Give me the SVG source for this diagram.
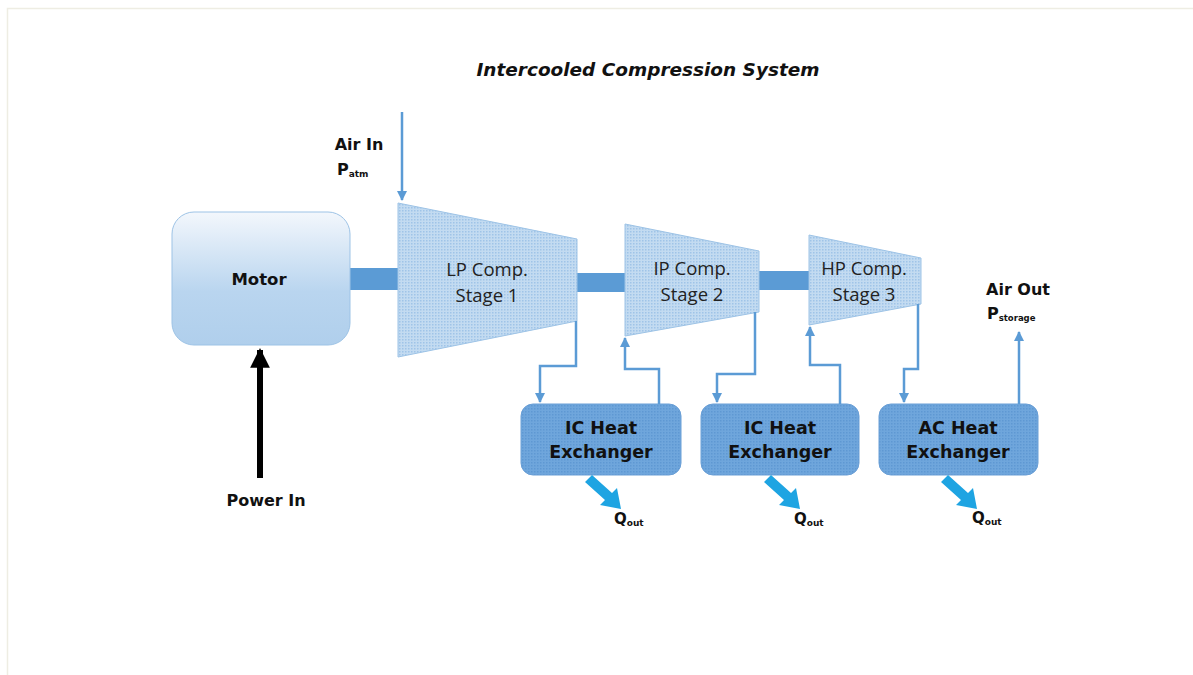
<svg xmlns="http://www.w3.org/2000/svg" width="1193" height="675" viewBox="0 0 1193 675">
<defs>
<style>
.lbl{font-family:"DejaVu Sans","Liberation Sans",sans-serif;font-weight:bold;fill:#111;}
.comp{font-family:"Open Sans","Liberation Sans",sans-serif;font-size:18.5px;fill:#222;text-anchor:middle;}
.title{font-family:"DejaVu Sans","Liberation Sans",sans-serif;font-weight:bold;font-style:italic;font-size:17px;fill:#111;text-anchor:middle;}
.flow{fill:none;stroke:#5b9bd5;stroke-width:2.5;}
.shaft{fill:#5b9bd5;}
.compshape{fill:url(#dots);stroke:#9dc3e6;stroke-width:1;}
.hx{fill:url(#hxdots);stroke:#6a9fd6;stroke-width:1;}
.hxt{font-family:"DejaVu Sans","Liberation Sans",sans-serif;font-weight:bold;font-size:17.5px;fill:#111;text-anchor:middle;}
</style>
<pattern id="dots" width="3" height="3" patternUnits="userSpaceOnUse">
<rect width="3" height="3" fill="#c3dbf1"/>
<rect width="1.5" height="1.5" fill="#9fc4e8"/>
</pattern>
<pattern id="hxdots" width="3" height="3" patternUnits="userSpaceOnUse">
<rect width="3" height="3" fill="#6fa6dc"/>
<rect width="1.5" height="1.5" fill="#5e98d3"/>
</pattern>
<linearGradient id="motorGrad" x1="0" y1="0" x2="0" y2="1">
<stop offset="0" stop-color="#f3f7fc"/>
<stop offset="0.6" stop-color="#b9d5ef"/>
<stop offset="1" stop-color="#b0cfec"/>
</linearGradient>
<marker id="blueArrow" viewBox="0 0 10 10" refX="9" refY="5" markerWidth="4" markerHeight="4" orient="auto">
<path d="M0,0 L10,5 L0,10 z" fill="#5b9bd5"/>
</marker>
<marker id="blackArrow" viewBox="0 0 10 10" refX="9" refY="5" markerWidth="3.3" markerHeight="3.3" orient="auto">
<path d="M0,0 L10,5 L0,10 z" fill="#000"/>
</marker>
</defs>
<rect width="1193" height="675" fill="#ffffff"/>
<path d="M7.5,700 V8.5 H1193" fill="none" stroke="#eeede3" stroke-width="1.5"/>

<text class="title" x="648" y="76" textLength="343" lengthAdjust="spacingAndGlyphs">Intercooled Compression System</text>

<g id="shafts">
<rect class="shaft" x="350" y="268" width="50" height="22"/>
<rect class="shaft" x="576" y="273" width="50" height="19"/>
<rect class="shaft" x="758" y="271" width="52" height="19"/>
</g>

<g id="motor">
<rect x="172" y="212" width="178" height="133" rx="22" fill="url(#motorGrad)" stroke="#9dc3e6" stroke-width="1"/>
<text class="lbl" x="259" y="285" font-size="16.5" text-anchor="middle">Motor</text>
</g>

<g id="lp-comp">
<polygon class="compshape" points="398,203 577,239 577,321 398,357"/>
<text class="comp" x="487" y="276">LP Comp.</text>
<text class="comp" x="487" y="302">Stage 1</text>
</g>

<g id="ip-comp">
<polygon class="compshape" points="625,224 759,251 759,312 625,336"/>
<text class="comp" x="692" y="275">IP Comp.</text>
<text class="comp" x="692" y="301">Stage 2</text>
</g>

<g id="hp-comp">
<polygon class="compshape" points="809,235 921,258 921,304 809,325"/>
<text class="comp" x="864" y="275">HP Comp.</text>
<text class="comp" x="864" y="301">Stage 3</text>
</g>

<g id="hx1">
<rect class="hx" x="521" y="404" width="160" height="71" rx="12"/>
<text class="hxt" x="601" y="434">IC Heat</text>
<text class="hxt" x="601" y="458">Exchanger</text>
</g>

<g id="hx2">
<rect class="hx" x="701" y="404" width="158" height="71" rx="12"/>
<text class="hxt" x="780" y="434">IC Heat</text>
<text class="hxt" x="780" y="458">Exchanger</text>
</g>

<g id="hx3">
<rect class="hx" x="879" y="404" width="159" height="71" rx="12"/>
<text class="hxt" x="958" y="434">AC Heat</text>
<text class="hxt" x="958" y="458">Exchanger</text>
</g>

<g id="labels">
<text class="lbl" x="359" y="150" font-size="16" text-anchor="middle">Air In</text>
<text class="lbl" x="337" y="175" font-size="16">P<tspan font-size="9" dy="2">atm</tspan></text>
<text class="lbl" x="1018" y="295" font-size="16" text-anchor="middle">Air Out</text>
<text class="lbl" x="987" y="319" font-size="16">P<tspan font-size="8.5" dy="2">storage</tspan></text>
<text class="lbl" x="266" y="506" font-size="16" text-anchor="middle">Power In</text>
<text class="lbl" x="614" y="524" font-size="15">Q<tspan font-size="9" dy="2">out</tspan></text>
<text class="lbl" x="794" y="524" font-size="15">Q<tspan font-size="9" dy="2">out</tspan></text>
<text class="lbl" x="972" y="523" font-size="15">Q<tspan font-size="9" dy="2">out</tspan></text>
</g>

<g id="connectors">
<path class="flow" d="M402,112 V200" marker-end="url(#blueArrow)"/>
<path class="flow" d="M576,321 V366 H540 V402" marker-end="url(#blueArrow)"/>
<path class="flow" d="M659,404 V369 H625 V338" marker-end="url(#blueArrow)"/>
<path class="flow" d="M755,312 V374 H717 V402" marker-end="url(#blueArrow)"/>
<path class="flow" d="M840,404 V365 H810 V327" marker-end="url(#blueArrow)"/>
<path class="flow" d="M918,304 V369 H904 V402" marker-end="url(#blueArrow)"/>
<path class="flow" d="M1019,404 V332" marker-end="url(#blueArrow)"/>
<path d="M260,478 V350" stroke="#000" stroke-width="6" fill="none" marker-end="url(#blackArrow)"/>
<g fill="#1ea4e2">
<polygon points="585,482 592,475 612,493 617,488 621,509 600,505 605,500"/>
<polygon points="764,482 771,475 791,493 796,488 800,509 779,505 784,500"/>
<polygon points="941,482 948,475 968,493 973,488 977,509 956,505 961,500"/>
</g>
</g>
</svg>
